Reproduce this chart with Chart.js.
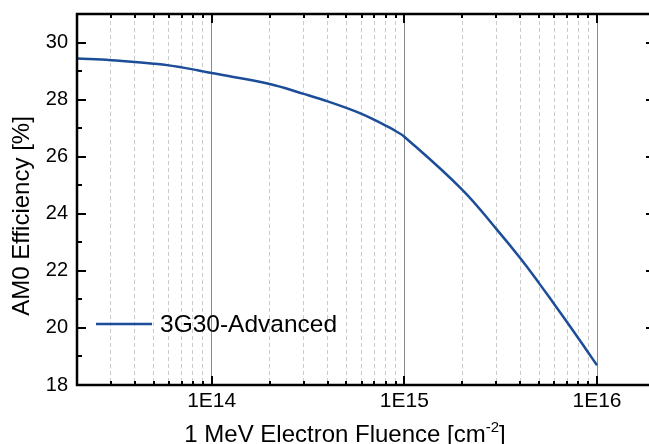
<!DOCTYPE html>
<html>
<head>
<meta charset="utf-8">
<script src="https://cdn.jsdelivr.net/npm/chart.js@4/dist/chart.umd.min.js"></script>
<style>
  html, body { margin: 0; padding: 0; overflow: hidden; background: #fff; }
  #wrap { width: 662px; height: 444px; }
</style>
</head>
<body>
<div id="wrap"><canvas id="chart"></canvas></div>
<script>
// values
const fluence = [2e13, 3e13, 4e13, 5e13, 6e13, 7e13, 8e13, 9e13,
  1e14, 2e14, 3e14, 4e14, 5e14, 6e14, 7e14, 8e14, 9e14,
  1e15, 2e15, 3e15, 4e15, 5e15, 6e15, 7e15, 8e15, 9e15, 1e16];
const efficiency = [29.44, 29.38, 29.32, 29.26, 29.20, 29.13, 29.06, 28.99,
  28.93, 28.55, 28.20, 27.94, 27.71, 27.50, 27.29, 27.09, 26.90,
  26.70, 24.84, 23.47, 22.44, 21.57, 20.83, 20.20, 19.64, 19.14, 18.69];
const seriesName = '3G30-Advanced';

const xDecades = [1e14, 1e15, 1e16];
const xTickLabels = ['1E14', '1E15', '1E16'];
const yTicks = [18, 20, 22, 24, 26, 28, 30];
const yMinorTicks = [19, 21, 23, 25, 27, 29];
const xTitle = '1 MeV Electron Fluence [cm';
const xTitleSup = '-2';
const yTitle = 'AM0 Efficiency [%]';

const xMin = 2e13, xMax = 2e16, yMin = 18, yMax = 31;

// 2..9 x 10^n inside the range
const xMinorTicks = [];
for (let e = 13; e <= 16; e++) {
  for (let m = 2; m <= 9; m++) {
    const v = Number((m * Math.pow(10, e)).toPrecision(3));
    if (v > xMin && v < xMax) xMinorTicks.push(v);
  }
}

const FONT = 'Liberation Sans, Arial, sans-serif';

const frame = {
  id: 'frame',
  afterDraw(chart) {
    const { ctx, chartArea: a, scales: { x, y } } = chart;
    ctx.save();
    ctx.strokeStyle = '#000';
    ctx.lineWidth = 2;
    const seg = (x0, y0, x1, y1) => {
      ctx.beginPath(); ctx.moveTo(x0, y0); ctx.lineTo(x1, y1); ctx.stroke();
    };
    // inward ticks on all four sides
    xDecades.forEach(v => {
      const px = Math.round(x.getPixelForValue(v));
      seg(px, a.bottom, px, a.bottom - 9);
      seg(px, a.top, px, a.top + 9);
    });
    xMinorTicks.forEach(v => {
      const px = Math.round(x.getPixelForValue(v));
      seg(px, a.bottom, px, a.bottom - 4);
      seg(px, a.top, px, a.top + 4);
    });
    yTicks.forEach(v => {
      const py = Math.round(y.getPixelForValue(v));
      seg(a.left, py, a.left + 9, py);
      seg(a.right, py, a.right - 9, py);
    });
    yMinorTicks.forEach(v => {
      const py = Math.round(y.getPixelForValue(v));
      seg(a.left, py, a.left + 5, py);
      seg(a.right, py, a.right - 5, py);
    });
    ctx.lineWidth = 2.5;
    ctx.strokeRect(a.left, a.top, a.right - a.left, a.bottom - a.top);

    // legend inside the plot
    const ds = chart.data.datasets[0];
    ctx.strokeStyle = ds.borderColor;
    ctx.lineWidth = ds.borderWidth;
    seg(a.left + 19, 324, a.left + 75, 324);
    ctx.fillStyle = '#000';
    ctx.font = '24.5px ' + FONT;
    ctx.textBaseline = 'middle';
    ctx.textAlign = 'left';
    ctx.fillText(ds.label, a.left + 83, 325);

    // axis titles
    ctx.font = '24px ' + FONT;
    ctx.textBaseline = 'alphabetic';
    const w1 = ctx.measureText(xTitle).width;
    ctx.font = '15px ' + FONT;
    const w2 = ctx.measureText(xTitleSup).width;
    ctx.font = '24px ' + FONT;
    const w3 = ctx.measureText(']').width;
    let tx = 345 - (w1 + w2 + w3) / 2;
    const ty = 442;
    ctx.fillText(xTitle, tx, ty);
    tx += w1;
    ctx.font = '15px ' + FONT;
    ctx.fillText(xTitleSup, tx, ty - 10);
    tx += w2;
    ctx.font = '24px ' + FONT;
    ctx.fillText(']', tx, ty);

    ctx.translate(22, 216);
    ctx.rotate(-Math.PI / 2);
    ctx.textAlign = 'center';
    ctx.textBaseline = 'middle';
    ctx.fillText(yTitle, 0, 0);
    ctx.restore();
  }
};

new Chart(document.getElementById('chart'), {
  type: 'line',
  data: {
    datasets: [{
      label: seriesName,
      data: fluence.map((f, i) => ({ x: f, y: efficiency[i] })),
      borderColor: '#1b4d98',
      borderWidth: 2.5,
      pointRadius: 0,
      tension: 0.4,
      fill: false
    }]
  },
  options: {
    responsive: true,
    maintainAspectRatio: false,
    animation: false,
    layout: { padding: { top: 14, right: 7, left: 0, bottom: 0 } },
    scales: {
      x: {
        type: 'logarithmic',
        min: xMin,
        max: xMax,
        afterBuildTicks: s => { s.ticks = xDecades.map(v => ({ value: v, major: true })); },
        afterFit: s => { s.height = 59; s.paddingLeft = 0; s.paddingRight = 0; },
        border: { display: false },
        grid: { color: '#8a8a8a', lineWidth: 1, drawTicks: false },
        ticks: {
          autoSkip: false,
          maxRotation: 0,
          padding: 4,
          color: '#000',
          font: { family: FONT, size: 21 },
          callback: v => xTickLabels[xDecades.indexOf(v)]
        }
      },
      x2: {
        type: 'logarithmic',
        position: 'bottom',
        min: xMin,
        max: xMax,
        afterBuildTicks: s => { s.ticks = xMinorTicks.map(v => ({ value: v })); },
        afterFit: s => { s.height = 0; s.paddingLeft = 0; s.paddingRight = 0; },
        border: { display: false, dash: [4, 3] },
        grid: { color: '#cacaca', lineWidth: 1, drawTicks: false },
        ticks: { display: false }
      },
      y: {
        type: 'linear',
        min: yMin,
        max: yMax,
        afterBuildTicks: s => { s.ticks = yTicks.map(v => ({ value: v })); },
        afterFit: s => { s.width = 77; s.paddingTop = 0; s.paddingBottom = 0; },
        border: { display: false },
        grid: { display: false, drawTicks: false },
        ticks: {
          padding: 9,
          color: '#000',
          font: { family: FONT, size: 20 }
        }
      }
    },
    plugins: {
      legend: { display: false },
      tooltip: { enabled: false }
    }
  },
  plugins: [frame]
});
</script>
</body>
</html>
